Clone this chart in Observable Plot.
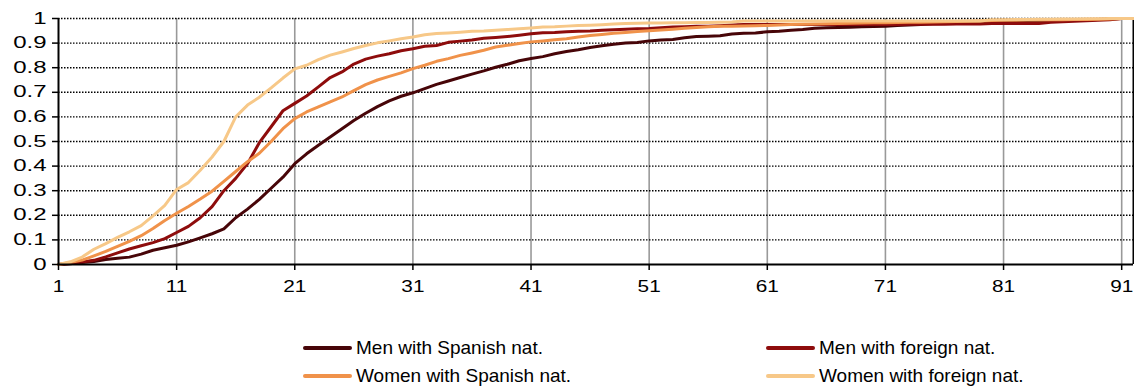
<!DOCTYPE html>
<html><head><meta charset="utf-8">
<script src="https://cdn.jsdelivr.net/npm/d3@7"></script>
<script src="https://cdn.jsdelivr.net/npm/@observablehq/plot@0.6"></script>
<style>
body{margin:0;background:#fff;font-family:"Liberation Sans",Arial,sans-serif;}
#wrap{position:relative;width:1134px;height:387px;overflow:hidden;}
#chart svg{display:block;}
.leg{position:absolute;height:24px;font-size:19px;color:#000;white-space:nowrap;}
.leg .sw{position:absolute;left:0;top:10px;width:49px;height:4px;border-radius:2px;}
.leg .tx{position:absolute;left:53px;top:1px;}
</style></head><body>
<div id="wrap"><div id="chart"></div></div>
<script>
// categories (days)
const days = d3.range(1, 93);
const xTicks = [1, 11, 21, 31, 41, 51, 61, 71, 81, 91];
const yTicks = [0, 0.1, 0.2, 0.3, 0.4, 0.5, 0.6, 0.7, 0.8, 0.9, 1];
const seriesNames = ["Men with Spanish nat.", "Men with foreign nat.", "Women with Spanish nat.", "Women with foreign nat."];
const seriesColors = ["#470508", "#8e0c0c", "#f0924a", "#f7c888"];

const menSpanish = [0,0.003,0.008,0.012,0.02,0.025,0.03,0.042,0.058,0.068,
0.078,0.092,0.108,0.125,0.145,0.19,0.225,0.265,0.31,0.355,
0.41,0.45,0.485,0.518,0.552,0.585,0.615,0.642,0.665,0.684,
0.698,0.715,0.732,0.746,0.76,0.774,0.787,0.802,0.814,0.828,
0.837,0.845,0.857,0.866,0.873,0.882,0.889,0.895,0.9,0.902,
0.909,0.913,0.915,0.922,0.927,0.928,0.93,0.937,0.94,0.941,
0.946,0.948,0.952,0.955,0.96,0.962,0.963,0.964,0.966,0.967,
0.968,0.972,0.974,0.976,0.979,0.98,0.981,0.982,0.983,0.984,
0.985,0.986,0.988,0.99,0.991,0.992,0.993,0.994,0.996,0.998,
1,1];
const menForeign = [0,0.004,0.01,0.017,0.031,0.047,0.063,0.076,0.089,0.105,
0.13,0.155,0.19,0.235,0.3,0.35,0.41,0.495,0.56,0.625,
0.655,0.685,0.722,0.76,0.783,0.815,0.835,0.847,0.857,0.869,
0.877,0.887,0.89,0.903,0.908,0.913,0.92,0.923,0.927,0.932,
0.938,0.942,0.943,0.946,0.948,0.949,0.952,0.954,0.956,0.958,
0.959,0.962,0.965,0.966,0.968,0.969,0.971,0.974,0.976,0.976,
0.976,0.976,0.976,0.976,0.976,0.976,0.976,0.976,0.976,0.976,
0.976,0.976,0.977,0.977,0.977,0.977,0.978,0.978,0.978,0.98,
0.98,0.98,0.98,0.98,0.985,0.987,0.989,0.991,0.993,0.995,
1,1];
const womenSpanish = [0,0.008,0.018,0.035,0.053,0.074,0.094,0.117,0.146,0.179,
0.208,0.236,0.266,0.298,0.338,0.378,0.418,0.452,0.5,0.552,
0.593,0.62,0.641,0.661,0.681,0.707,0.731,0.75,0.765,0.779,
0.796,0.81,0.826,0.837,0.85,0.86,0.871,0.884,0.891,0.898,
0.905,0.909,0.914,0.918,0.925,0.931,0.935,0.94,0.943,0.947,
0.95,0.953,0.956,0.96,0.963,0.966,0.968,0.969,0.97,0.971,
0.972,0.974,0.976,0.977,0.978,0.979,0.98,0.981,0.982,0.983,
0.983,0.984,0.985,0.985,0.986,0.987,0.988,0.989,0.99,0.992,
0.993,0.993,0.994,0.994,0.995,0.995,0.996,0.996,0.997,0.998,
1,1];
const womenForeign = [0,0.011,0.03,0.062,0.085,0.11,0.133,0.158,0.198,0.24,
0.305,0.333,0.383,0.437,0.5,0.6,0.648,0.68,0.718,0.758,
0.795,0.81,0.833,0.851,0.864,0.878,0.89,0.901,0.909,0.918,
0.925,0.934,0.939,0.941,0.944,0.948,0.949,0.952,0.955,0.958,
0.961,0.965,0.966,0.969,0.972,0.973,0.975,0.978,0.98,0.981,
0.982,0.982,0.983,0.983,0.984,0.984,0.985,0.986,0.99,0.99,
0.99,0.99,0.99,0.99,0.99,0.99,0.99,0.99,0.99,0.99,
0.99,0.99,0.99,0.99,0.99,0.99,0.99,0.99,0.99,0.995,
0.995,0.996,0.996,0.997,0.997,0.998,0.998,0.999,0.999,1,
1,1];

const allSeries = [menSpanish, menForeign, womenSpanish, womenForeign];
const rows = [];
allSeries.forEach((vals, s) => vals.forEach((v, i) => rows.push({day: days[i], value: v, series: seriesNames[s]})));

const font = "'Liberation Sans', Arial, sans-serif";
const chart = Plot.plot({
  width: 1134,
  height: 300,
  marginLeft: 58,
  marginRight: 1,
  marginTop: 18,
  marginBottom: 36,
  style: {fontFamily: font, fontSize: "16px", color: "#000", background: "#fff"},
  x: {domain: [1, 92]},
  y: {domain: [0, 1]},
  color: {domain: seriesNames, range: seriesColors},
  marks: [
    Plot.ruleX(xTicks.slice(1), {stroke: "#999", strokeWidth: 1.6}),
    Plot.ruleY(yTicks.slice(1), {stroke: "#000", strokeWidth: 1.4, strokeDasharray: "1.5,1.5"}),
    Plot.ruleX([92], {stroke: "#000", strokeWidth: 2}),
    Plot.lineY(rows, {x: "day", y: "value", z: "series", stroke: "series", strokeWidth: 3, strokeLinejoin: "round"}),
    Plot.ruleX([1], {stroke: "#000", strokeWidth: 2}),
    Plot.ruleY([0], {stroke: "#000", strokeWidth: 2}),
    Plot.axisX({ticks: xTicks, tickFormat: d => String(d), tickSize: 6, tickPadding: 10, fontSize: 16, label: null, stroke: "#000", strokeWidth: 1.5}),
    Plot.axisY({ticks: yTicks, tickFormat: d => String(+d.toFixed(1)), tickSize: 6, tickPadding: 6, fontSize: 16, label: null, stroke: "#000", strokeWidth: 1.5})
  ]
});
document.getElementById("chart").appendChild(chart);

// widen the tick labels horizontally like the reference
function stretch(sel, s) {
  chart.querySelectorAll(sel).forEach(t => {
    const tr = t.getAttribute("transform");
    if (tr && tr.includes("translate")) {
      t.setAttribute("transform", tr + ` scale(${s},1)`);
    } else {
      const x = +(t.getAttribute("x") || 0), y = +(t.getAttribute("y") || 0);
      t.setAttribute("x", 0); t.setAttribute("y", 0);
      t.setAttribute("transform", `${tr || ""} translate(${x},${y}) scale(${s},1)`);
    }
  });
}
stretch('g[aria-label="x-axis tick label"] text', 1.3);
stretch('g[aria-label="y-axis tick label"] text', 1.5);

// legend
const legPos = [[303, 336], [766, 336], [303, 364], [766, 364]];
const wrap = document.getElementById("wrap");
seriesNames.forEach((name, i) => {
  const d = document.createElement("div");
  d.className = "leg";
  d.style.left = legPos[i][0] + "px";
  d.style.top = legPos[i][1] + "px";
  const sw = document.createElement("span");
  sw.className = "sw";
  sw.style.background = seriesColors[i];
  d.appendChild(sw);
  const tx = document.createElement("span");
  tx.className = "tx";
  tx.textContent = name;
  d.appendChild(tx);
  wrap.appendChild(d);
});
</script>
</body></html>
